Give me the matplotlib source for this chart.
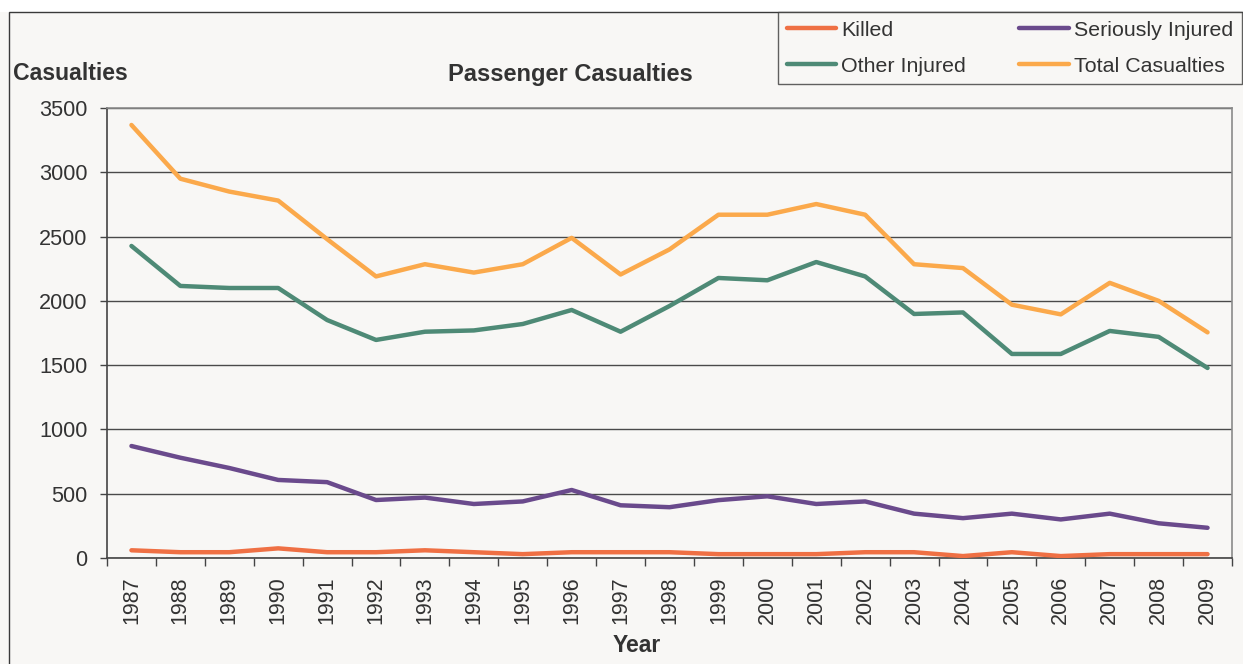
import matplotlib
matplotlib.use("Agg")
import matplotlib.pyplot as plt
from matplotlib.patches import Rectangle
from matplotlib.ticker import FixedLocator, NullFormatter, FixedFormatter

years = [str(y) for y in range(1987, 2010)]
killed = [60, 45, 45, 75, 45, 45, 60, 45, 30, 45, 45, 45, 30, 30, 30, 45, 45, 15, 45, 15, 30, 30, 30]
seriously = [871, 780, 700, 607, 590, 451, 470, 420, 440, 529, 410, 395, 450, 480, 420, 440, 345, 310, 345, 300, 345, 270, 235]
other = [2427, 2116, 2100, 2100, 1851, 1696, 1760, 1770, 1820, 1929, 1760, 1960, 2178, 2160, 2302, 2190, 1898, 1910, 1587, 1587, 1766, 1720, 1478]
total = [3368, 2950, 2850, 2780, 2480, 2190, 2285, 2220, 2285, 2490, 2205, 2400, 2670, 2670, 2753, 2670, 2285, 2255, 1970, 1895, 2140, 2000, 1755]
yticks = [0, 500, 1000, 1500, 2000, 2500, 3000, 3500]

plt.rcParams['font.family'] = ['Liberation Sans', 'DejaVu Sans']
TXT = '#333333'
BG = '#f8f7f5'

W, H = 1243, 664
fig = plt.figure(figsize=(W / 100, H / 100), dpi=100, facecolor=BG)

# white strip above outer frame and outer frame
fig.patches.append(Rectangle((0, 1 - 12 / H), 1, 12 / H, transform=fig.transFigure,
                             facecolor='white', edgecolor='none', zorder=0))
fig.patches.append(Rectangle((9 / W, -0.1), 1.1, 1.1 - 12 / H, transform=fig.transFigure,
                             facecolor='none', edgecolor='#3a3a3a', lw=1.0, zorder=1))

ax = fig.add_axes([107 / W, 1 - 558 / H, (1232 - 107) / W, (558 - 108) / H])
ax.set_facecolor(BG)

x = list(range(len(years)))
h_k, = ax.plot(x, killed, color='#ef7044', lw=3.2, label='Killed', solid_capstyle='round', zorder=3)
h_s, = ax.plot(x, seriously, color='#6a4a8c', lw=3.2, label='Seriously Injured', solid_capstyle='round', zorder=3)
h_o, = ax.plot(x, other, color='#4e8a76', lw=3.2, label='Other Injured', solid_capstyle='round', zorder=3)
h_t, = ax.plot(x, total, color='#fba94b', lw=3.2, label='Total Casualties', solid_capstyle='round', zorder=3)

ax.set_xlim(-0.5, len(years) - 0.5)
ax.set_ylim(0, 3500)
ax.set_yticks(yticks)
ax.set_yticklabels([str(v) for v in yticks])
ax.yaxis.grid(True, color='#4a4a4a', lw=1.0)
ax.set_axisbelow(True)

ax.xaxis.set_major_locator(FixedLocator([i - 0.5 for i in range(len(years) + 1)]))
ax.xaxis.set_major_formatter(NullFormatter())
ax.xaxis.set_minor_locator(FixedLocator(x))
ax.xaxis.set_minor_formatter(FixedFormatter(years))
ax.tick_params(axis='x', which='major', length=6, direction='out', color='#444444', width=1)
ax.tick_params(axis='x', which='minor', length=0, pad=13, labelsize=15.5, labelrotation=90, labelcolor=TXT)
ax.tick_params(axis='y', length=5, direction='out', color='#444444', width=1, pad=9, labelsize=15.6, labelcolor=TXT)

for s in ['left', 'bottom']:
    ax.spines[s].set_color('#444444')
    ax.spines[s].set_linewidth(1.2)
for s in ['top', 'right']:
    ax.spines[s].set_color('#8a8a8a')
    ax.spines[s].set_linewidth(1.2)

fig.text(570 / W, 1 - 75 / H, 'Passenger Casualties', ha='center', va='center',
         fontsize=17, fontweight='bold', color=TXT)
fig.text(13 / W, 1 - 73 / H, 'Casualties', ha='left', va='center',
         fontsize=16.6, fontweight='bold', color=TXT)
fig.text(637 / W, 1 - 645 / H, 'Year', ha='center', va='center',
         fontsize=16.5, fontweight='bold', color=TXT)

leg = fig.legend([h_k, h_o, h_s, h_t],
                 ['Killed', 'Other Injured', 'Seriously Injured', 'Total Casualties'],
                 loc='upper left', ncol=2,
                 bbox_to_anchor=(778 / W, 1 - 12 / H),
                 borderaxespad=0, frameon=True, fancybox=False, fontsize=15.4,
                 handlelength=2.3, handletextpad=0.25, columnspacing=2.5,
                 labelspacing=0.8, borderpad=0.4)
leg.get_frame().set_edgecolor('#3a3a3a')
leg.get_frame().set_facecolor(BG)
leg.get_frame().set_linewidth(1.0)
for t in leg.get_texts():
    t.set_color(TXT)

fig.savefig('out.png', dpi=100, facecolor=BG)
